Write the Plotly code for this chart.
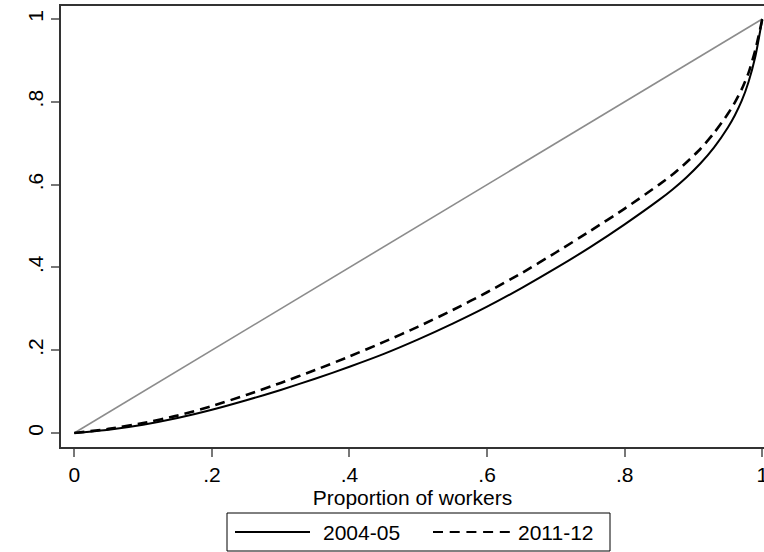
import plotly.graph_objects as go

# Cumulative share of workers
share_workers = [0, 0.05, 0.1, 0.15, 0.2, 0.25, 0.3, 0.35, 0.4, 0.45, 0.5, 0.55, 0.6,
                 0.65, 0.7, 0.75, 0.8, 0.85, 0.87, 0.89, 0.91, 0.93, 0.95, 0.96, 0.97,
                 0.98, 0.99, 1.0]
# Lorenz curve 2004-05
lorenz_2004 = [0, 0.008, 0.020, 0.036, 0.056, 0.079, 0.104, 0.131, 0.160, 0.191, 0.226, 0.264,
               0.305, 0.350, 0.398, 0.449, 0.504, 0.563, 0.589, 0.618, 0.651, 0.690, 0.738,
               0.767, 0.802, 0.848, 0.910, 1.0]
# Lorenz curve 2011-12
lorenz_2011 = [0, 0.010, 0.024, 0.042, 0.065, 0.092, 0.121, 0.152, 0.185, 0.220, 0.257, 0.297,
               0.340, 0.386, 0.436, 0.488, 0.542, 0.600, 0.625, 0.654, 0.686, 0.725, 0.771,
               0.798, 0.830, 0.870, 0.926, 1.0]
# Line of equality
equality_x = [0, 1]
equality_y = [0, 1]

tick_vals = [0, 0.2, 0.4, 0.6, 0.8, 1]
tick_text = ["0", ".2", ".4", ".6", ".8", "1"]
series_names = ["2004-05", "2011-12"]

FONT = "Liberation Sans, Arial, sans-serif"

fig = go.Figure()
fig.add_trace(go.Scatter(x=equality_x, y=equality_y, mode="lines",
                         line=dict(color="#8c8c8c", width=1.6), showlegend=False,
                         hoverinfo="skip"))
fig.add_trace(go.Scatter(x=share_workers, y=lorenz_2004, mode="lines", name=series_names[0],
                         line=dict(color="black", width=2, shape="spline", smoothing=0.6),
                         showlegend=False))
fig.add_trace(go.Scatter(x=share_workers, y=lorenz_2011, mode="lines", name=series_names[1],
                         line=dict(color="black", width=2.6, dash="10px,6px",
                                   shape="spline", smoothing=0.6),
                         showlegend=False))

# Legend (Stata style: long line samples in a framed box below the plot)
def px_x(p):
    return (p - 61) / 703.0

def px_y(p):
    return (447 - p) / 441.0

shapes = [
    dict(type="rect", xref="paper", yref="paper",
         x0=px_x(227), x1=px_x(610), y0=px_y(551), y1=px_y(513),
         line=dict(color="black", width=1), fillcolor="white", layer="above"),
    dict(type="line", xref="paper", yref="paper",
         x0=px_x(235), x1=px_x(310), y0=px_y(532), y1=px_y(532),
         line=dict(color="black", width=2)),
    dict(type="line", xref="paper", yref="paper",
         x0=px_x(433), x1=px_x(510), y0=px_y(532), y1=px_y(532),
         line=dict(color="black", width=2, dash="10px,6.7px")),
]
annotations = [
    dict(xref="paper", yref="paper", x=px_x(321), y=px_y(532), xanchor="left",
         yanchor="middle", text=series_names[0], showarrow=False, font=dict(size=21)),
    dict(xref="paper", yref="paper", x=px_x(516), y=px_y(532), xanchor="left",
         yanchor="middle", text=series_names[1], showarrow=False, font=dict(size=21)),
]

fig.update_layout(
    width=764, height=552,
    margin=dict(l=61, r=0, t=6, b=105, autoexpand=False),
    paper_bgcolor="white", plot_bgcolor="white",
    font=dict(family=FONT, size=21, color="black"),
    showlegend=False,
    shapes=shapes, annotations=annotations,
    xaxis=dict(range=[-0.0193, 1.0025], tickvals=tick_vals, ticktext=tick_text,
               ticks="outside", ticklen=8, tickwidth=1.5, tickcolor="#777777",
               ticklabeloverflow="allow", automargin=False,
               showline=True, mirror=True, linecolor="#333333", linewidth=1.5,
               showgrid=False, zeroline=False,
               title=dict(text="Proportion of workers", font=dict(size=21), standoff=0)),
    yaxis=dict(range=[-0.0338, 1.0314], tickvals=tick_vals, ticktext=tick_text,
               ticks="outside", ticklen=8, tickwidth=1.5, tickcolor="#777777",
               tickangle=-90, ticklabeloverflow="allow", automargin=False,
               showline=True, mirror=False, linecolor="#333333", linewidth=1.5,
               showgrid=False, zeroline=False),
)

fig.write_html("out.html")
